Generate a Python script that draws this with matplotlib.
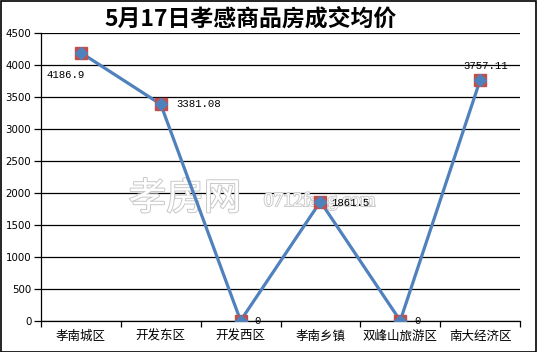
import matplotlib
matplotlib.use("Agg")
import matplotlib.pyplot as plt
import matplotlib.patheffects as pe
from matplotlib.patches import Rectangle

categories = ["孝南城区", "开发东区", "开发西区", "孝南乡镇", "双峰山旅游区", "南大经济区"]
values = [4186.9, 3381.08, 0, 1861.5, 0, 3757.11]
labels = ["4186.9", "3381.08", "0", "1861.5", "0", "3757.11"]
yticks = [0, 500, 1000, 1500, 2000, 2500, 3000, 3500, 4000, 4500]
title = "5月17日孝感商品房成交均价"

cjk = ["Noto Sans CJK SC", "DejaVu Sans"]

fig = plt.figure(figsize=(5.37, 3.52), dpi=100)
ax = fig.add_axes([41/537, 1-320.7/352, (520-41)/537, (320.7-32.7)/352])

x = list(range(len(categories)))
ax.plot(x, values, color="#4F81BD", lw=2.3, zorder=3, solid_capstyle="round")
ax.plot(x, values, ls="none", marker="s", ms=8.5, mfc="#C0504D", mec="#C0504D", zorder=4)
ax.plot(x, values, ls="none", marker="D", ms=6, mfc="#4F81BD", mec="#4F81BD", zorder=5)

ax.set_xlim(-0.5, len(categories) - 0.5)
ax.set_ylim(0, 4500)
ax.set_yticks(yticks)
ax.set_yticklabels([str(v) for v in yticks], fontsize=7.4, family="DejaVu Sans")
ax.grid(axis="y", color="black", lw=0.9, zorder=1)
ax.set_axisbelow(True)

ax.set_xticks([i - 0.5 for i in range(len(categories) + 1)])
ax.set_xticklabels([])
ax.tick_params(axis="x", length=4, width=0.9, direction="out")
ax.tick_params(axis="y", length=5, width=0.9, direction="out", pad=2)
for i, c in enumerate(categories):
    ax.text(i, -0.055, c, transform=ax.get_xaxis_transform(), ha="center", va="center",
            fontsize=9, family=cjk)

for s in ["top", "right"]:
    ax.spines[s].set_visible(False)
for s in ["left", "bottom"]:
    ax.spines[s].set_linewidth(0.9)

# data labels
offsets = [(-11, -16, "center"), (11, 0, "left"), (10, 0, "left"), (8, -1, "left"), (10, 0, "left"), (4, 10, "center")]
for i, (v, lab) in enumerate(zip(values, labels)):
    dx, dy, ha = offsets[i]
    ax.annotate(lab, (i, v), xytext=(dx, dy), textcoords="offset points", ha=ha, va="center",
                fontsize=7.7, family="Liberation Mono", zorder=6)

# watermark (inside axes, below the line)
ax.text(185/537, 1-199/352, "孝房网", fontsize=27, family=cjk, color="white", ha="center", va="center",
        transform=fig.transFigure,
        path_effects=[pe.withStroke(linewidth=1.4, foreground="#c8c8c8")], zorder=2)
ax.text(320/537, 1-201/352, "0712fang.com", fontsize=14, family="Liberation Serif", color="white",
        ha="center", va="center", transform=fig.transFigure,
        path_effects=[pe.withStroke(linewidth=1.3, foreground="#c8c8c8")], zorder=2)

fig.text(251/537, 1-19/352, title, fontsize=16.5, family=cjk, weight="bold", ha="center", va="center")

fig.patches.append(Rectangle((0.001, 0.001), 0.997, 0.996, transform=fig.transFigure, fill=False,
                             edgecolor="black", lw=1.2))

fig.savefig("out.png", dpi=100)
